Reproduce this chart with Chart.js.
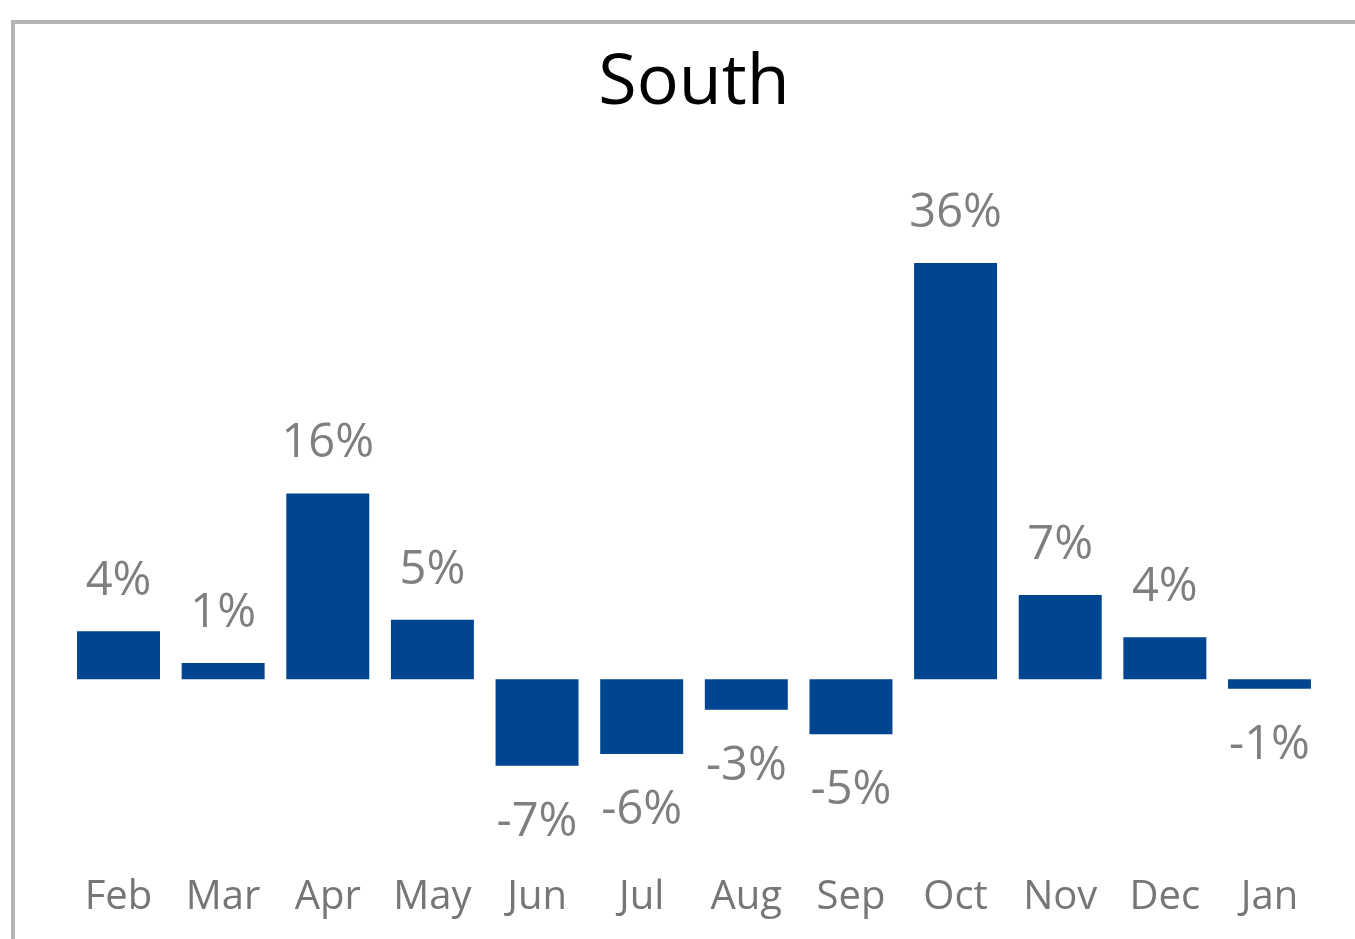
<!DOCTYPE html>
<html>
<head>
<meta charset="utf-8">
<script src="https://cdn.jsdelivr.net/npm/chart.js@4/dist/chart.umd.min.js"></script>
<style>
  html, body { margin: 0; padding: 0; width: 1355px; height: 939px; overflow: hidden; background: #fff; }
  #frame { position: absolute; left: 11px; top: 20px; width: 1400px; height: 1000px;
           border-left: 4px solid #b4b4b4; border-top: 4px solid #b4b4b4; box-sizing: border-box; }
  #wrap { position: absolute; left: 15px; top: 24px; width: 1358px; height: 951px; }
</style>
</head>
<body>
<div id="frame"></div>
<div id="wrap"><canvas id="c"></canvas></div>
<script>
const categories = ['Feb', 'Mar', 'Apr', 'May', 'Jun', 'Jul', 'Aug', 'Sep', 'Oct', 'Nov', 'Dec', 'Jan'];
const values = [4.1, 1.4, 15.9, 5.1, -7.4, -6.4, -2.6, -4.7, 35.6, 7.2, 3.6, -0.8];
const titleText = 'South';

const FONT = "'Open Sans', 'Noto Sans', 'DejaVu Sans', sans-serif";

const dataLabels = {
  id: 'dataLabels',
  afterDatasetsDraw(chart) {
    const ctx = chart.ctx;
    const meta = chart.getDatasetMeta(0);
    ctx.save();
    ctx.font = '47px ' + FONT;
    ctx.fillStyle = '#7f7f7f';
    ctx.textAlign = 'center';
    ctx.textBaseline = 'alphabetic';
    meta.data.forEach((bar, i) => {
      const v = values[i];
      const txt = Math.round(v) + '%';
      if (v >= 0) {
        ctx.fillText(txt, bar.x, bar.y - 36);
      } else {
        ctx.fillText(txt, bar.x, bar.y + 70);
      }
    });
    ctx.restore();
  }
};

new Chart(document.getElementById('c'), {
  type: 'bar',
  data: {
    labels: categories,
    datasets: [{
      data: values,
      backgroundColor: '#004590',
      borderWidth: 0,
      categoryPercentage: 1,
      barPercentage: 0.793
    }]
  },
  options: {
    responsive: true,
    maintainAspectRatio: false,
    animation: false,
    events: [],
    layout: { padding: { left: 51.2, right: 51.2, top: 0, bottom: 0 } },
    plugins: {
      legend: { display: false },
      tooltip: { enabled: false },
      title: {
        display: true,
        text: titleText,
        color: '#000000',
        font: { family: FONT, size: 70, weight: 'normal', lineHeight: 1.2 },
        padding: { top: 18, bottom: 85.6 }
      }
    },
    scales: {
      x: {
        grid: { display: false, drawTicks: false },
        border: { display: false },
        ticks: {
          color: '#767676',
          font: { family: FONT, size: 40 },
          padding: 53.7,
          maxRotation: 0,
          autoSkip: false
        }
      },
      y: {
        display: false,
        min: -12,
        max: 40,
        grid: { display: false }
      }
    }
  },
  plugins: [dataLabels]
});
</script>
</body>
</html>
